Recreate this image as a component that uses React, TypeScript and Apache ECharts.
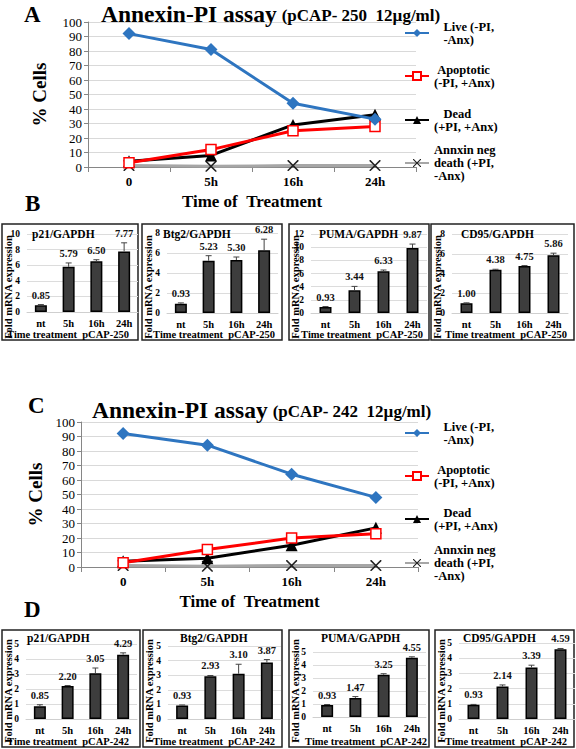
import React, { useEffect, useRef } from "react";
import * as echarts from "echarts";

// ---------- data ----------
const timeCats = ["0", "5h", "16h", "24h"];
const barCats = ["nt", "5h", "16h", "24h"];

const seriesNames = ["Live (-PI, -Anx)", "Apoptotic (-PI, +Anx)", "Dead (+PI, +Anx)", "Annxin neg death (+PI, -Anx)"];
const legendLines = [
  "\u00a0\u00a0\u00a0Live (-PI,\n\u00a0\u00a0\u00a0-Anx)",
  "\u00a0Apoptotic\n(-PI, +Anx)",
  "\u00a0\u00a0\u00a0Dead\n(+PI, +Anx)",
  "Annxin neg\ndeath (+PI,\n-Anx)",
];

// Panel A (pCAP-250)
const liveA = [92, 81, 44, 33];
const apoptoticA = [3, 12, 25, 28];
const deadA = [4, 8, 29, 36];
const annexinNegA = [1, 0.5, 1, 1];

// Panel C (pCAP-242)
const liveC = [92, 84, 64, 48];
const apoptoticC = [3, 12, 20, 23];
const deadC = [4, 6, 15, 27];
const annexinNegC = [1, 0.5, 1, 1];

// Panel B (pCAP-250) fold mRNA expression
const p21B = [0.85, 5.79, 6.5, 7.77];
const p21BErr = [0.1, 0.5, 0.2, 1.1];
const btg2B = [0.93, 5.23, 5.3, 6.28];
const btg2BErr = [0.08, 0.5, 0.3, 1.1];
const pumaB = [0.93, 3.44, 6.33, 9.87];
const pumaBErr = [0.05, 0.6, 0.2, 0.6];
const cd95B = [1.0, 4.38, 4.75, 5.86];
const cd95BErr = [0.03, 0.05, 0.05, 0.2];

// Panel D (pCAP-242) fold mRNA expression
const p21D = [0.85, 2.2, 3.05, 4.29];
const p21DErr = [0.1, 0.03, 0.35, 0.12];
const btg2D = [0.93, 2.93, 3.1, 3.87];
const btg2DErr = [0.03, 0.05, 0.65, 0.2];
const pumaD = [0.93, 1.47, 3.25, 4.55];
const pumaDErr = [0.03, 0.1, 0.08, 0.08];
const cd95D = [0.93, 2.14, 3.39, 4.59];
const cd95DErr = [0.03, 0.1, 0.15, 0.05];

const yMaxB = [10, 8, 12, 8];
const yMaxD = [5, 5, 5, 5];
const geneTitles = ["p21/GAPDH", "Btg2/GAPDH", "PUMA/GAPDH", "CD95/GAPDH"];

// ---------- styling ----------
const SERIF = "Liberation Serif, Times New Roman, serif";
const X_SYMBOL =
  "path://M0,0 L2,0 L10,8 L18,0 L20,0 L20,2 L12,10 L20,18 L20,20 L18,20 L10,12 L2,20 L0,20 L0,18 L8,10 L0,2 Z";

const lineStyles = [
  { color: "#2e75c0", symbol: "diamond", symbolSize: 13, fill: "#2e75c0" },
  { color: "#ff0000", symbol: "rect", symbolSize: 10, fill: "#ffffff" },
  { color: "#000000", symbol: "triangle", symbolSize: 12, fill: "#000000" },
  { color: "#a6a6a6", symbol: X_SYMBOL, symbolSize: 11, fill: "#222222" },
];

function errorRenderItem(params: any, api: any) {
  const i = api.value(0);
  const v = api.value(1);
  const e = api.value(2);
  const base = api.coord([i, v]);
  const top = api.coord([i, v + e]);
  return {
    type: "group",
    children: [
      { type: "line", shape: { x1: base[0], y1: base[1], x2: top[0], y2: top[1] }, style: { stroke: "#444", lineWidth: 1 } },
      { type: "line", shape: { x1: top[0] - 3, y1: top[1], x2: top[0] + 3, y2: top[1] }, style: { stroke: "#444", lineWidth: 1 } },
      {
        type: "text",
        style: {
          text: v.toFixed(2),
          x: top[0],
          y: top[1] - 4,
          align: "center",
          verticalAlign: "bottom",
          font: `bold 10.5px ${SERIF}`,
          fill: "#111",
        },
      },
    ],
  };
}

export default function App() {
  const ref = useRef<HTMLDivElement>(null);

  useEffect(() => {
    if (!ref.current) return;
    const chart = echarts.init(ref.current, undefined, { renderer: "svg" });

    const grids: any[] = [];
    const xAxes: any[] = [];
    const yAxes: any[] = [];
    const series: any[] = [];
    const legends: any[] = [];
    const titles: any[] = [];
    const graphics: any[] = [];

    // ----- line charts (A & C) -----
    const lineCharts = [
      { grid: { left: 88, top: 22, width: 328, height: 145 }, data: [liveA, apoptoticA, deadA, annexinNegA], title: "(pCAP- 250\u00a0\u00a012µg/ml)", titleLeft: 101, titleTop: 1, legendY: [33, 76, 120, 163], nameGap: 39 },
      { grid: { left: 81, top: 422, width: 337, height: 145 }, data: [liveC, apoptoticC, deadC, annexinNegC], title: "(pCAP- 242\u00a0\u00a012µg/ml)", titleLeft: 92, titleTop: 397, legendY: [433, 476, 519, 563], nameGap: 36 },
    ];

    lineCharts.forEach((lc) => {
      const gi = grids.length;
      grids.push(lc.grid);
      xAxes.push({
        type: "category",
        gridIndex: gi,
        data: timeCats,
        boundaryGap: true,
        axisLine: { lineStyle: { color: "#868686" } },
        axisTick: { show: true, length: 5, lineStyle: { color: "#868686" } },
        axisLabel: { fontFamily: SERIF, fontWeight: "bold", fontSize: 13, color: "#000", margin: 8 },
        name: "Time of\u00a0\u00a0Treatment",
        nameLocation: "middle",
        nameGap: 26,
        nameTextStyle: { fontFamily: SERIF, fontWeight: "bold", fontSize: 17, color: "#000" },
      });
      yAxes.push({
        type: "value",
        gridIndex: gi,
        min: 0,
        max: 100,
        interval: 10,
        axisLine: { show: true, lineStyle: { color: "#868686" } },
        axisTick: { show: true, length: 4, lineStyle: { color: "#868686" } },
        splitLine: { lineStyle: { color: "#d9d9d9" } },
        axisLabel: { fontFamily: SERIF, fontSize: 13, color: "#000", margin: 6 },
        name: "% Cells",
        nameLocation: "middle",
        nameRotate: 90,
        nameGap: lc.nameGap,
        nameTextStyle: { fontFamily: SERIF, fontWeight: "bold", fontSize: 19, color: "#000" },
      });
      lc.data.forEach((d, s) => {
        const st = lineStyles[s];
        series.push({
          type: "line",
          name: seriesNames[s],
          xAxisIndex: gi,
          yAxisIndex: gi,
          data: d,
          symbol: st.symbol,
          symbolSize: st.symbolSize,
          showAllSymbol: true,
          lineStyle: { color: st.color, width: 3 },
          itemStyle: { color: st.fill, borderColor: s === 3 ? st.fill : st.color, borderWidth: s === 1 ? 1.5 : 0 },
          z: s === 3 ? 1 : 5 - s,
        });
        const nLines = legendLines[s].split("\n").length;
        const H = nLines * 13 + (nLines - 1) * 13;
        legends.push({
          show: true,
          left: 404,
          top: lc.legendY[s] - H / 2,
          padding: 0,
          orient: "vertical",
          itemWidth: 24,
          itemHeight: 10,
          selectedMode: false,
          data: [seriesNames[s]],
          formatter: () => legendLines[s],
          textStyle: {
            fontFamily: SERIF,
            fontWeight: "bold",
            fontSize: 12.5,
            lineHeight: 13,
            color: "#000",
            padding: [(nLines - 1) * 13, 0, 0, 0],
          },
        });
      });
      titles.push({
        left: lc.titleLeft,
        top: lc.titleTop,
        padding: 0,
        text: `{a|Annexin-PI assay} {b|${lc.title}}`,
        textStyle: {
          rich: {
            a: { fontFamily: SERIF, fontWeight: "bold", fontSize: 23.5, lineHeight: 26, color: "#000" },
            b: { fontFamily: SERIF, fontWeight: "bold", fontSize: 17, lineHeight: 26, color: "#000", padding: [3, 0, 0, 0] },
          },
        },
      });
    });

    // ----- bar panels (B & D) -----
    const barRows = [
      {
        vals: [p21B, btg2B, pumaB, cd95B],
        errs: [p21BErr, btg2BErr, pumaBErr, cd95BErr],
        maxes: yMaxB,
        interval: 2,
        grids: [
          { left: 27, top: 234, width: 111, height: 78 },
          { left: 167, top: 233, width: 111, height: 80 },
          { left: 311, top: 234, width: 116, height: 79 },
          { left: 452, top: 234, width: 116, height: 79 },
        ],
        boxes: [[2, 224, 136, 116], [142, 224, 140, 116], [289, 224, 140, 116], [431, 224, 143, 116]],
        titleX: [32, 163, 319, 461],
        titleY: 228,
        foot: "Time treatment\u00a0\u00a0pCAP-250",
        footX: [68, 214, 362, 506],
        footY: 334,
        ylabY: 287,
      },
      {
        vals: [p21D, btg2D, pumaD, cd95D],
        errs: [p21DErr, btg2DErr, pumaDErr, cd95DErr],
        maxes: yMaxD,
        interval: 1,
        grids: [
          { left: 26, top: 644, width: 111, height: 75 },
          { left: 168, top: 646, width: 113, height: 73 },
          { left: 313, top: 652, width: 113, height: 65 },
          { left: 459, top: 643, width: 116, height: 76 },
        ],
        boxes: [[2, 630, 138, 117], [143, 630, 139, 117], [289, 630, 140, 117], [435, 630, 139, 117]],
        titleX: [27, 180, 321, 463],
        titleY: 632,
        foot: "Time treatment\u00a0\u00a0pCAP-242",
        footX: [68, 214, 366, 506],
        footY: 741,
        ylabY: 691,
      },
    ];

    barRows.forEach((row) => {
      row.grids.forEach((g, p) => {
        const gi = grids.length;
        grids.push(g);
        xAxes.push({
          type: "category",
          gridIndex: gi,
          data: barCats,
          axisLine: { show: true, lineStyle: { color: "#cfcfcf" } },
          axisTick: { show: false },
          axisLabel: { fontFamily: SERIF, fontWeight: "bold", fontSize: 10.5, color: "#000", margin: 6 },
        });
        yAxes.push({
          type: "value",
          gridIndex: gi,
          min: 0,
          max: row.maxes[p],
          interval: row.interval,
          axisLine: { show: false },
          axisTick: { show: false },
          splitLine: { lineStyle: { color: "#dcdcdc" } },
          axisLabel: { fontFamily: SERIF, fontWeight: "bold", fontSize: 9.5, color: "#000", margin: 7 },
        });
        series.push({
          type: "bar",
          xAxisIndex: gi,
          yAxisIndex: gi,
          data: row.vals[p],
          barWidth: 12,
          itemStyle: { color: "#3d3d3d", borderColor: "#000", borderWidth: 1.5 },
        });
        series.push({
          type: "custom",
          xAxisIndex: gi,
          yAxisIndex: gi,
          renderItem: errorRenderItem,
          encode: { x: 0, y: 1 },
          data: row.vals[p].map((v, i) => [i, v, row.errs[p][i]]),
          z: 5,
        });
        titles.push({
          left: row.titleX[p],
          top: row.titleY,
          padding: 0,
          text: geneTitles[p],
          textStyle: { fontFamily: SERIF, fontWeight: "bold", fontSize: 11.5, color: "#000" },
        });
        const b = row.boxes[p];
        graphics.push({
          type: "rect",
          shape: { x: b[0], y: b[1], width: b[2], height: b[3] },
          style: { fill: "none", stroke: "#222", lineWidth: 1.5 },
          silent: true,
        });
        graphics.push({
          type: "text",
          x: b[0] + 6,
          y: row.ylabY,
          rotation: Math.PI / 2,
          style: {
            text: "Fold mRNA expression",
            align: "center",
            verticalAlign: "middle",
            font: `bold 10.5px ${SERIF}`,
            fill: "#000",
          },
        });
        graphics.push({
          type: "text",
          x: row.footX[p],
          y: row.footY,
          style: {
            text: row.foot,
            align: "center",
            verticalAlign: "middle",
            font: `bold 10.5px ${SERIF}`,
            fill: "#000",
          },
        });
      });
    });

    // panel letters
    [["A", 24, 3], ["B", 25, 192], ["C", 28, 394], ["D", 24, 598]].forEach(([t, x, y]) => {
      graphics.push({
        type: "text",
        x: x as number,
        y: y as number,
        style: { text: t as string, font: `bold 23px ${SERIF}`, fill: "#000", align: "left", verticalAlign: "top" },
      });
    });

    chart.setOption({
      animation: false,
      backgroundColor: "#ffffff",
      title: titles,
      legend: legends,
      grid: grids,
      xAxis: xAxes,
      yAxis: yAxes,
      series,
      graphic: graphics,
    });

    return () => chart.dispose();
  }, []);

  return (
    <div
      ref={ref}
      style={{ position: "absolute", left: 0, top: 0, width: 576, height: 749, background: "#fff" }}
    />
  );
}
